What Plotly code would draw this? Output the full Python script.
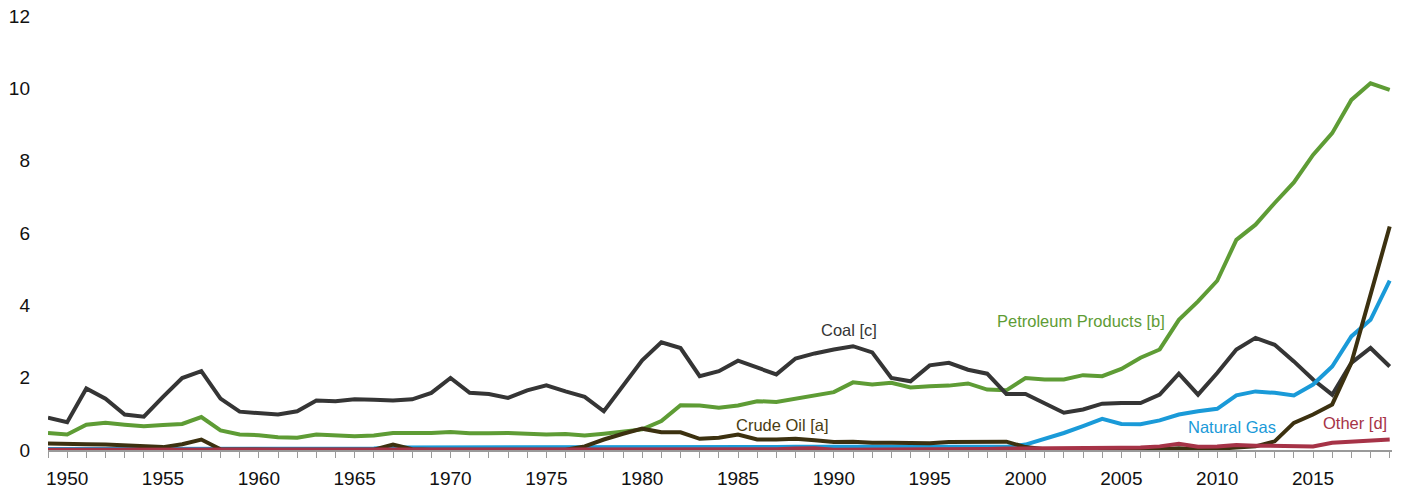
import plotly.graph_objects as go

years = list(range(1949, 2020))

coal = [0.89, 0.77, 1.70, 1.42, 0.98, 0.92, 1.47, 1.99, 2.18, 1.42,
        1.06, 1.03, 0.98, 1.07, 1.37, 1.35, 1.40, 1.39, 1.37, 1.40,
        1.58, 1.99, 1.58, 1.55, 1.44, 1.65, 1.79, 1.62, 1.47, 1.07,
        1.76, 2.48, 2.98, 2.82, 2.04, 2.18, 2.47, 2.29, 2.09, 2.53,
        2.67, 2.78, 2.87, 2.70, 1.99, 1.90, 2.34, 2.41, 2.22, 2.11,
        1.55, 1.55, 1.28, 1.03, 1.12, 1.28, 1.30, 1.30, 1.53, 2.11,
        1.53, 2.13, 2.78, 3.10, 2.91, 2.45, 1.95, 1.53, 2.41, 2.82,
        2.31]

petroleum = [0.47, 0.43, 0.70, 0.75, 0.70, 0.66, 0.69, 0.72, 0.91, 0.54,
             0.43, 0.41, 0.35, 0.34, 0.43, 0.41, 0.38, 0.40, 0.47, 0.47,
             0.47, 0.50, 0.46, 0.46, 0.47, 0.45, 0.43, 0.44, 0.40, 0.45,
             0.52, 0.57, 0.80, 1.24, 1.23, 1.17, 1.23, 1.35, 1.33, 1.42,
             1.53, 1.60, 1.87, 1.81, 1.86, 1.73, 1.76, 1.78, 1.84, 1.67,
             1.65, 1.99, 1.95, 1.95, 2.07, 2.04, 2.24, 2.55, 2.78, 3.60,
             4.11, 4.68, 5.81, 6.23, 6.83, 7.40, 8.16, 8.76, 9.68, 10.14,
             9.96]

crude = [0.18, 0.18, 0.16, 0.15, 0.13, 0.10, 0.08, 0.16, 0.29, 0.02,
         0.01, 0.01, 0.01, 0.01, 0.01, 0.01, 0.01, 0.01, 0.15, 0.02,
         0.01, 0.01, 0.01, 0.01, 0.01, 0.01, 0.01, 0.01, 0.10, 0.29,
         0.45, 0.59, 0.49, 0.49, 0.31, 0.34, 0.43, 0.29, 0.29, 0.31,
         0.27, 0.22, 0.23, 0.20, 0.20, 0.20, 0.19, 0.22, 0.22, 0.22,
         0.23, 0.08, 0.02, 0.00, 0.01, 0.01, 0.01, 0.02, 0.02, 0.05,
         0.02, 0.03, 0.07, 0.10, 0.24, 0.75, 0.98, 1.26, 2.41, 4.34,
         6.18]

natural_gas = [0.03, 0.03, 0.03, 0.03, 0.03, 0.03, 0.03, 0.03, 0.03, 0.03,
               0.03, 0.03, 0.03, 0.03, 0.03, 0.03, 0.03, 0.04, 0.07, 0.07,
               0.06, 0.08, 0.08, 0.08, 0.08, 0.08, 0.08, 0.08, 0.08, 0.08,
               0.08, 0.08, 0.08, 0.08, 0.08, 0.08, 0.08, 0.08, 0.08, 0.09,
               0.09, 0.09, 0.07, 0.09, 0.09, 0.09, 0.09, 0.09, 0.09, 0.09,
               0.09, 0.15, 0.31, 0.47, 0.66, 0.86, 0.72, 0.71, 0.82, 0.98,
               1.07, 1.14, 1.51, 1.62, 1.58, 1.51, 1.81, 2.31, 3.14, 3.60,
               4.68]

other = [0.01, 0.01, 0.01, 0.01, 0.01, 0.01, 0.01, 0.01, 0.01, 0.01,
         0.01, 0.01, 0.01, 0.01, 0.01, 0.01, 0.01, 0.01, 0.01, 0.01,
         0.01, 0.01, 0.01, 0.01, 0.01, 0.01, 0.01, 0.01, 0.01, 0.01,
         0.01, 0.01, 0.01, 0.01, 0.01, 0.01, 0.01, 0.01, 0.02, 0.04,
         0.05, 0.01, 0.01, 0.02, 0.02, 0.02, 0.02, 0.02, 0.03, 0.03,
         0.04, 0.04, 0.04, 0.05, 0.05, 0.05, 0.06, 0.07, 0.10, 0.17,
         0.09, 0.10, 0.14, 0.12, 0.11, 0.11, 0.10, 0.20, 0.23, 0.27,
         0.29]

series = [
    ("Petroleum Products [b]", petroleum, "#5e9c35"),
    ("Coal [c]", coal, "#353535"),
    ("Natural Gas", natural_gas, "#1a9ad8"),
    ("Crude Oil [a]", crude, "#3c3110"),
    ("Other [d]", other, "#a63347"),
]

labels = [
    ("Coal [c]", 1990.8, 3.33, "#353535"),
    ("Petroleum Products [b]", 2002.9, 3.58, "#5e9c35"),
    ("Crude Oil [a]", 1987.3, 0.70, "#4a3d12"),
    ("Natural Gas", 2010.75, 0.64, "#1a9ad8"),
    ("Other [d]", 2017.2, 0.75, "#a63347"),
]

FONT = "Liberation Sans, Arial, sans-serif"

fig = go.Figure()
for name, vals, color in series:
    fig.add_trace(go.Scatter(x=years, y=vals, mode="lines", name=name,
                             line=dict(color=color, width=4)))

for text, x, y, color in labels:
    fig.add_annotation(x=x, y=y, text=text, showarrow=False, xref="x", yref="y",
                       font=dict(family=FONT, size=16.5, color=color))

# page body has an 8px margin, so margins are offset to compensate
fig.update_layout(
    width=1402, height=490,
    margin=dict(l=40, r=18, t=8, b=48),
    paper_bgcolor="white", plot_bgcolor="white",
    showlegend=False,
    font=dict(family=FONT, size=19, color="#111111"),
    xaxis=dict(range=[1949, 2019.12], tickmode="linear", tick0=1950, dtick=5,
               automargin=False, ticklabeloverflow="allow",
               showgrid=False, zeroline=False, showline=True, linecolor="#9a9a9a",
               linewidth=2, ticks="outside", ticklen=6, tickcolor="#9a9a9a", tickwidth=1,
               minor=dict(dtick=1, tick0=1949, ticks="outside", ticklen=6,
                          tickcolor="#9a9a9a", tickwidth=1, showgrid=False),
               ticklabelstandoff=4, tickfont=dict(size=19)),
    yaxis=dict(range=[0, 12], tickmode="linear", tick0=0, dtick=2,
               automargin=False, ticklabeloverflow="allow",
               showgrid=False, zeroline=False, showline=False, ticks="",
               ticklabelstandoff=17, tickfont=dict(size=19)),
)

fig.write_html("out.html")
